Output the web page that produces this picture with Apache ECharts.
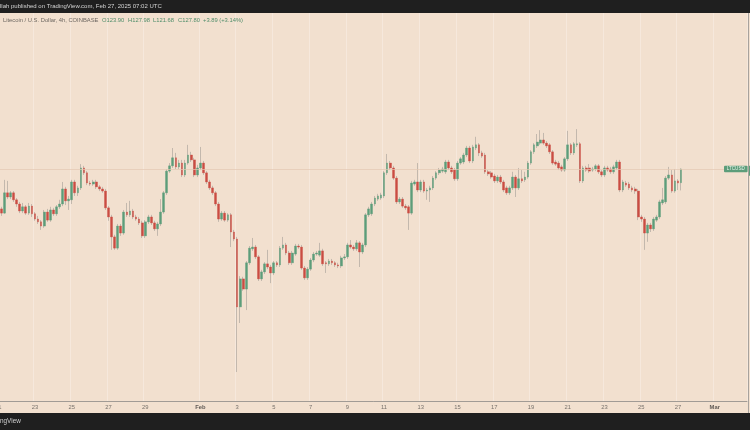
<!DOCTYPE html>
<html><head><meta charset="utf-8">
<script src="https://cdn.jsdelivr.net/npm/echarts@6/dist/echarts.min.js"></script>
<style>html,body{margin:0;padding:0;background:#f2e0cf;}#c{width:750px;height:430px;}</style>
</head><body><div id="c"></div>
<script>
// ---- data (4h candles, Coinbase LTC/USD, from 2025-01-21 00:00 UTC) ----
const opens = [
117.5,116.4,115.2,121.0,119.8,121.0,119.0,117.8,115.8,117.0,
115.2,117.2,115.0,113.5,112.7,111.5,115.5,113.2,116.1,115.0,
117.0,117.8,122.1,118.7,119.0,124.1,121.0,122.4,128.1,126.7,
123.8,123.5,124.1,122.7,122.1,121.5,116.7,114.1,108.4,105.2,
111.5,109.5,115.5,114.7,115.8,114.1,113.5,112.4,108.7,112.7,
114.1,112.4,110.7,112.1,115.5,121.0,127.2,128.7,131.0,128.4,
129.5,126.1,129.5,131.8,130.4,126.1,128.1,129.5,126.7,124.1,
122.4,121.0,117.8,113.5,115.2,113.2,114.7,109.8,107.8,88.4,
96.4,93.5,101.0,105.0,105.5,102.7,96.4,98.4,100.7,99.8,
98.1,101.0,100.4,105.2,106.1,103.8,101.0,103.5,105.8,105.5,
99.5,96.7,99.2,101.8,103.5,103.2,104.4,101.0,100.7,101.5,
101.0,100.4,100.1,102.4,102.7,106.1,105.5,105.0,106.7,104.1,
106.1,114.7,115.0,117.8,119.2,119.5,120.1,126.7,129.5,128.1,
125.2,118.4,119.2,117.2,117.0,115.2,123.5,124.1,121.8,124.1,
121.5,121.8,122.4,125.2,126.7,127.2,127.0,129.8,128.1,127.5,
125.0,129.5,129.8,131.8,133.8,130.1,133.8,134.7,132.4,131.8,
127.0,126.7,125.8,124.4,125.5,124.1,122.4,121.0,122.4,125.5,
122.4,125.0,124.7,125.5,129.5,132.7,134.4,135.2,136.1,135.2,
134.7,132.7,129.8,129.5,128.4,127.5,130.7,134.7,132.4,134.7,
135.0,124.4,128.1,128.1,127.5,127.8,128.7,127.0,126.1,128.1,
127.8,127.0,128.1,129.8,121.8,123.8,123.5,122.4,122.1,121.5,
114.1,113.5,109.5,111.8,110.7,113.2,114.1,118.1,118.4,125.2,
126.1,121.5,124.4,123.90];
const closes = [
116.4,115.2,121.0,119.8,121.0,119.0,117.8,115.8,117.0,115.2,
117.2,115.0,113.5,112.7,111.5,115.5,113.2,116.1,115.0,117.0,
117.8,122.1,118.7,119.2,124.1,121.0,122.4,128.1,126.7,123.8,
123.5,124.1,122.7,122.1,121.5,116.7,114.1,108.4,105.2,111.5,
109.5,115.5,114.7,115.8,114.1,113.5,112.4,108.7,112.7,114.1,
112.4,110.7,112.1,115.5,121.0,127.2,128.7,131.0,128.4,129.5,
126.1,129.5,131.8,130.4,126.1,128.1,129.5,126.7,124.1,122.4,
121.0,117.8,113.5,115.2,113.2,114.7,109.8,107.8,88.4,96.4,
93.5,101.0,105.2,105.5,102.7,96.4,98.4,100.7,99.8,98.1,
101.0,100.4,105.2,106.1,103.8,101.0,103.8,105.8,105.5,99.5,
96.7,99.2,101.8,103.5,103.8,104.4,100.7,100.7,101.5,101.0,
100.4,100.1,102.4,102.7,106.1,105.5,105.0,106.7,104.1,106.1,
114.7,116.4,117.8,119.5,120.1,120.4,126.7,129.5,128.1,125.2,
118.4,119.2,117.2,116.7,115.2,123.8,124.1,121.8,124.1,121.5,
121.8,122.4,125.2,126.7,127.5,127.8,129.8,128.1,127.0,125.0,
129.5,130.7,131.8,133.8,130.1,134.1,134.7,132.4,131.5,127.0,
126.4,125.5,124.4,125.5,124.1,121.8,121.0,122.4,125.5,122.4,
125.0,124.4,125.5,129.5,132.7,134.7,135.5,136.1,135.2,134.4,
132.7,129.5,129.2,128.1,127.5,130.7,134.7,132.4,135.0,135.0,
124.4,128.1,127.5,127.2,127.8,128.7,127.0,126.1,128.1,127.5,
127.0,128.4,129.8,121.8,124.1,123.2,122.4,121.8,121.5,114.1,
113.5,109.5,111.8,110.7,113.5,114.1,118.4,119.0,125.2,126.1,
121.5,124.4,123.8,127.80];
const lows = [
115.5,114.4,115.0,119.2,119.2,118.4,117.0,115.2,115.2,114.7,
114.7,114.1,113.0,112.1,110.4,111.0,112.7,112.7,114.4,114.4,
116.4,117.2,117.5,116.1,117.8,120.1,120.1,121.8,126.1,123.2,
123.0,123.0,122.1,121.5,121.0,116.1,113.0,104.7,104.7,104.7,
108.7,109.0,114.1,114.1,113.5,113.0,111.8,108.1,108.1,112.1,
111.8,110.1,108.7,111.5,115.0,120.4,126.7,128.1,127.8,127.8,
125.5,125.5,129.0,129.8,125.5,125.5,127.5,126.1,123.5,121.8,
120.4,117.2,112.7,113.0,112.7,112.7,105.5,107.2,69.8,83.8,
93.0,87.5,100.4,104.4,102.1,95.8,95.8,97.8,99.2,95.2,
97.5,99.8,99.8,104.7,103.2,100.4,100.4,103.0,105.0,99.0,
96.1,96.1,98.7,101.2,103.0,102.7,100.1,98.1,100.1,100.4,
99.8,99.5,99.5,101.8,102.1,105.0,104.4,104.4,99.8,103.5,
105.5,114.1,114.4,117.2,118.7,119.0,119.5,126.1,127.5,124.7,
117.8,117.8,116.7,116.1,110.4,114.7,123.0,121.2,121.2,121.0,
119.0,118.4,121.8,124.7,126.1,126.7,126.4,127.5,126.4,124.4,
124.4,129.0,129.2,131.2,129.5,129.5,133.2,131.5,131.0,126.4,
125.8,125.0,123.8,123.8,123.5,121.2,120.4,120.4,121.8,119.8,
121.8,123.8,124.1,125.0,129.0,132.1,133.8,134.7,134.7,133.8,
132.1,129.0,128.7,127.5,127.0,127.0,130.1,131.8,131.8,134.1,
123.8,123.8,127.0,126.7,127.0,127.2,126.4,125.5,125.5,127.0,
126.4,126.4,127.5,121.2,121.2,122.7,121.8,121.2,120.7,113.2,
112.7,104.7,107.0,109.8,110.1,112.7,113.5,117.5,117.8,124.7,
121.0,121.0,121.8,121.68];
const highs = [
118.4,117.0,124.7,124.4,121.5,121.5,119.5,118.4,118.1,117.5,
118.1,117.8,115.5,114.4,113.2,116.1,116.4,117.0,116.7,117.5,
119.0,124.1,122.7,120.1,124.7,124.7,123.0,129.2,128.7,127.2,
124.4,124.7,124.7,123.2,122.7,122.1,117.2,114.7,109.0,112.1,
112.1,116.1,118.1,118.7,116.4,114.7,114.1,113.0,113.2,114.7,
114.7,113.0,112.7,119.2,121.5,127.8,129.5,133.8,132.4,130.4,
130.4,130.4,134.7,132.7,131.0,129.0,134.1,130.1,127.2,124.7,
123.0,121.5,118.4,115.8,115.8,115.2,115.2,110.4,108.4,97.2,
97.0,101.5,105.8,108.1,106.1,103.2,99.0,101.2,104.7,100.4,
101.5,101.5,105.8,108.4,106.7,104.4,104.4,106.4,106.4,106.1,
100.1,99.8,102.4,104.1,104.4,106.7,105.0,101.5,102.1,102.1,
101.5,101.0,103.0,103.5,106.7,107.5,106.1,107.5,107.2,106.7,
115.2,117.0,118.4,120.1,120.7,121.0,127.2,132.1,130.1,128.7,
125.8,119.8,119.8,117.8,117.5,124.4,124.7,129.5,124.7,124.7,
122.4,123.0,125.8,127.2,128.1,128.4,130.4,130.4,128.7,128.1,
130.1,131.2,132.4,134.4,134.4,134.7,137.0,135.2,133.0,132.4,
127.5,127.2,126.4,126.1,126.1,124.7,123.0,123.0,127.0,126.1,
128.1,127.5,127.0,130.1,133.2,135.2,137.8,138.9,138.1,135.8,
135.2,133.2,130.4,130.1,129.0,131.2,138.7,135.2,135.5,139.2,
135.5,128.7,128.7,129.2,128.4,129.2,129.2,127.5,128.7,128.7,
128.4,129.0,130.4,130.4,124.7,124.4,124.1,123.0,122.7,122.1,
114.7,114.1,112.4,112.4,114.1,114.7,119.0,122.4,125.8,128.4,
127.5,127.8,124.9,127.98];

const tickDates = ['2025-01-21 00:00','2025-01-23 00:00','2025-01-25 00:00','2025-01-27 00:00','2025-01-29 00:00',
  '2025-02-01 00:00','2025-02-03 00:00','2025-02-05 00:00','2025-02-07 00:00','2025-02-09 00:00','2025-02-11 00:00',
  '2025-02-13 00:00','2025-02-15 00:00','2025-02-17 00:00','2025-02-19 00:00','2025-02-21 00:00','2025-02-23 00:00',
  '2025-02-25 00:00','2025-02-27 00:00','2025-03-01 00:00'];
const tickLabels = ['21','23','25','27','29','Feb','3','5','7','9','11','13','15','17','19','21','23','25','27','Mar'];

const headerTitle = 'Litecoin / U.S. Dollar, 4h, COINBASE';
const headerValues = ['O123.90','H127.98','L121.68','C127.80','+3.89 (+3.14%)'];
const publishedText = 'llah published on TradingView.com, Feb 27, 2025 07:02 UTC';
const symbolName = 'LTCUSD';

// ---- time slots (4h) ----
const startTime = Date.UTC(2025, 0, 21, 0, 0);
const slotCount = 245;
const categories = [];
for (let k = 0; k < slotCount; k++) {
  const d = new Date(startTime + k * 4 * 3600 * 1000);
  categories.push(d.toISOString().slice(0, 16).replace('T', ' '));
}

const wickData = opens.map((o, i) => [o, closes[i], lows[i], highs[i]]);
const bodyData = opens.map((o, i) => [o, closes[i], Math.min(o, closes[i]), Math.max(o, closes[i])]);
const lastClose = closes[closes.length - 1];

const UP = '#5c9d7a', DOWN = '#ca4c42', WICK = '#bdb3a9', BG = '#f2e0cf';
const FONT = '"Liberation Sans", Arial, sans-serif';
const slotW = 3.062;
const yMin = 61.52, yMax = 172.37;

const isTick = (idx, val) => tickDates.indexOf(val) >= 0;
const fmt = (val) => {
  const t = tickLabels[tickDates.indexOf(val)];
  return (t === 'Feb' || t === 'Mar') ? '{m|' + t + '}' : t;
};

const chart = echarts.init(document.getElementById('c'), null, {renderer: 'canvas'});
chart.setOption({
  backgroundColor: BG,
  animation: false,
  grid: {left: -3.27, top: 13, width: slotCount * slotW, height: 388, containLabel: false, outerBoundsMode: 'none'},
  xAxis: {
    type: 'category', data: categories, boundaryGap: true,
    axisLine: {show: true, lineStyle: {color: '#a19b95', width: 1}},
    axisTick: {show: false, alignWithLabel: true, interval: isTick},
    axisLabel: {interval: isTick, formatter: fmt, color: '#77716b', fontSize: 5.8, margin: 3.5, fontFamily: FONT,
      hideOverlap: false,
      rich: {m: {fontWeight: 'bold', color: '#605a55', fontSize: 5.8, fontFamily: FONT}}},
    splitLine: {show: true, interval: isTick, lineStyle: {color: '#f6e8dc', width: 1}}
  },
  yAxis: {type: 'value', min: yMin, max: yMax, show: false, scale: true},
  series: [
    {type: 'candlestick', name: 'wick', data: wickData, barWidth: 1, silent: true,
     itemStyle: {color: WICK, color0: WICK, borderColor: WICK, borderColor0: WICK, borderWidth: 0.9}},
    {type: 'candlestick', name: 'body', data: bodyData, barWidth: 2.2, silent: true,
     itemStyle: {color: UP, color0: DOWN, borderColor: UP, borderColor0: DOWN, borderWidth: 0.4},
     markLine: {silent: true, symbol: ['none', 'none'], label: {show: false},
       lineStyle: {color: '#e4c7b1', width: 0.7, type: 'solid'}, data: [{yAxis: lastClose}]}}
  ]
});

const yLast = chart.convertToPixel({yAxisIndex: 0}, lastClose);
const txt = (id, x, y, text, fill, size, weight, align) => ({
  type: 'text', id, x, y, z: 100,
  style: {text, fill, fontSize: size, fontFamily: FONT, fontWeight: weight || 'normal',
    align: align || 'left', verticalAlign: 'middle'}
});
const valueX = [102, 128, 153, 178, 203];
chart.setOption({
  graphic: [
    {type: 'rect', id: 'topbar', z: 90, shape: {x: 0, y: 0, width: 750, height: 13}, style: {fill: '#1f1f1f'}},
    txt('pub', 0, 6.8, publishedText, '#d4d4d4', 6),
    {type: 'rect', id: 'botbar', z: 90, shape: {x: 0, y: 413, width: 750, height: 17}, style: {fill: '#1f1f1f'}},
    txt('tv', 0, 421.5, 'ngView', '#cfcfcf', 6.4),
    txt('title', 3, 20.3, headerTitle, '#6e6862', 5.8),
    ...headerValues.map((v, j) => txt('hv' + j, valueX[j], 20.3, v, '#4f8d6a', 5.8)),
    {type: 'line', id: 'rborder', z: 95, shape: {x1: 748.5, y1: 13, x2: 748.5, y2: 413}, style: {stroke: '#a8a29c', lineWidth: 1}},
    {type: 'rect', id: 'plabel', z: 100, shape: {x: 724, y: yLast - 3.3, width: 23.6, height: 6.6, r: 1}, style: {fill: UP}},
    {type: 'rect', id: 'plabel2', z: 100, shape: {x: 749, y: yLast - 3.3, width: 1, height: 10}, style: {fill: UP}},
    txt('ptext', 735.8, yLast + 0.2, symbolName, '#e8f3ec', 4.6, 'normal', 'center')
  ]
});
</script></body></html>
